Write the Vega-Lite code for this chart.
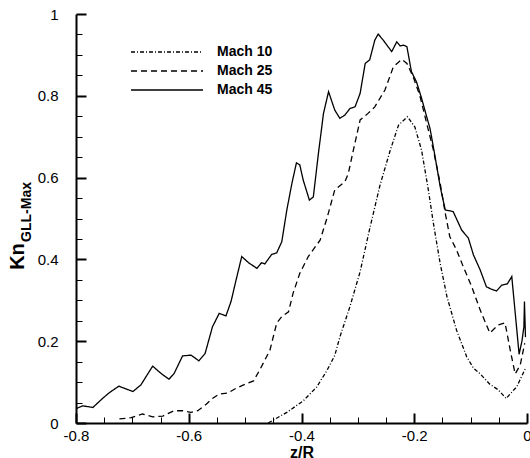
{
  "$schema": "https://vega.github.io/schema/vega-lite/v6.json",
  "width": 451,
  "height": 409,
  "autosize": "none",
  "padding": {"left": 76, "top": 14, "right": 3, "bottom": 35},
  "config": {"view": {"stroke": null}, "font": "Liberation Sans"},
  "data": {"values": [
    {"series":"Mach 10","z":-0.459,"kn":0.0},
    {"series":"Mach 10","z":-0.426,"kn":0.026},
    {"series":"Mach 10","z":-0.397,"kn":0.054},
    {"series":"Mach 10","z":-0.373,"kn":0.088},
    {"series":"Mach 10","z":-0.355,"kn":0.128},
    {"series":"Mach 10","z":-0.341,"kn":0.165},
    {"series":"Mach 10","z":-0.332,"kn":0.21},
    {"series":"Mach 10","z":-0.314,"kn":0.285},
    {"series":"Mach 10","z":-0.296,"kn":0.37},
    {"series":"Mach 10","z":-0.279,"kn":0.475},
    {"series":"Mach 10","z":-0.261,"kn":0.58},
    {"series":"Mach 10","z":-0.243,"kn":0.665},
    {"series":"Mach 10","z":-0.228,"kn":0.728},
    {"series":"Mach 10","z":-0.212,"kn":0.749},
    {"series":"Mach 10","z":-0.199,"kn":0.724},
    {"series":"Mach 10","z":-0.187,"kn":0.667},
    {"series":"Mach 10","z":-0.175,"kn":0.57},
    {"series":"Mach 10","z":-0.166,"kn":0.488},
    {"series":"Mach 10","z":-0.154,"kn":0.39},
    {"series":"Mach 10","z":-0.142,"kn":0.309},
    {"series":"Mach 10","z":-0.125,"kn":0.227},
    {"series":"Mach 10","z":-0.107,"kn":0.162},
    {"series":"Mach 10","z":-0.095,"kn":0.134},
    {"series":"Mach 10","z":-0.083,"kn":0.12},
    {"series":"Mach 10","z":-0.066,"kn":0.095},
    {"series":"Mach 10","z":-0.051,"kn":0.081},
    {"series":"Mach 10","z":-0.037,"kn":0.06},
    {"series":"Mach 10","z":-0.018,"kn":0.089},
    {"series":"Mach 10","z":-0.002,"kn":0.136},

    {"series":"Mach 25","z":-0.723,"kn":0.01},
    {"series":"Mach 25","z":-0.702,"kn":0.013},
    {"series":"Mach 25","z":-0.682,"kn":0.022},
    {"series":"Mach 25","z":-0.664,"kn":0.015},
    {"series":"Mach 25","z":-0.646,"kn":0.017},
    {"series":"Mach 25","z":-0.626,"kn":0.03},
    {"series":"Mach 25","z":-0.611,"kn":0.03},
    {"series":"Mach 25","z":-0.596,"kn":0.026},
    {"series":"Mach 25","z":-0.584,"kn":0.03},
    {"series":"Mach 25","z":-0.569,"kn":0.046},
    {"series":"Mach 25","z":-0.558,"kn":0.06},
    {"series":"Mach 25","z":-0.546,"kn":0.071},
    {"series":"Mach 25","z":-0.531,"kn":0.073},
    {"series":"Mach 25","z":-0.516,"kn":0.085},
    {"series":"Mach 25","z":-0.5,"kn":0.095},
    {"series":"Mach 25","z":-0.485,"kn":0.103},
    {"series":"Mach 25","z":-0.474,"kn":0.13},
    {"series":"Mach 25","z":-0.456,"kn":0.178},
    {"series":"Mach 25","z":-0.444,"kn":0.244},
    {"series":"Mach 25","z":-0.435,"kn":0.26},
    {"series":"Mach 25","z":-0.423,"kn":0.272},
    {"series":"Mach 25","z":-0.415,"kn":0.317},
    {"series":"Mach 25","z":-0.403,"kn":0.366},
    {"series":"Mach 25","z":-0.388,"kn":0.407},
    {"series":"Mach 25","z":-0.367,"kn":0.447},
    {"series":"Mach 25","z":-0.355,"kn":0.5},
    {"series":"Mach 25","z":-0.341,"kn":0.57},
    {"series":"Mach 25","z":-0.323,"kn":0.59},
    {"series":"Mach 25","z":-0.317,"kn":0.61},
    {"series":"Mach 25","z":-0.308,"kn":0.667},
    {"series":"Mach 25","z":-0.296,"kn":0.741},
    {"series":"Mach 25","z":-0.282,"kn":0.757},
    {"series":"Mach 25","z":-0.27,"kn":0.773},
    {"series":"Mach 25","z":-0.252,"kn":0.814},
    {"series":"Mach 25","z":-0.237,"kn":0.871},
    {"series":"Mach 25","z":-0.222,"kn":0.889},
    {"series":"Mach 25","z":-0.213,"kn":0.879},
    {"series":"Mach 25","z":-0.202,"kn":0.847},
    {"series":"Mach 25","z":-0.19,"kn":0.8},
    {"series":"Mach 25","z":-0.178,"kn":0.733},
    {"series":"Mach 25","z":-0.166,"kn":0.667},
    {"series":"Mach 25","z":-0.154,"kn":0.586},
    {"series":"Mach 25","z":-0.145,"kn":0.513},
    {"series":"Mach 25","z":-0.137,"kn":0.456},
    {"series":"Mach 25","z":-0.125,"kn":0.423},
    {"series":"Mach 25","z":-0.113,"kn":0.382},
    {"series":"Mach 25","z":-0.098,"kn":0.333},
    {"series":"Mach 25","z":-0.083,"kn":0.276},
    {"series":"Mach 25","z":-0.066,"kn":0.22},
    {"series":"Mach 25","z":-0.051,"kn":0.24},
    {"series":"Mach 25","z":-0.039,"kn":0.245},
    {"series":"Mach 25","z":-0.03,"kn":0.18},
    {"series":"Mach 25","z":-0.021,"kn":0.12},
    {"series":"Mach 25","z":-0.012,"kn":0.142},
    {"series":"Mach 25","z":-0.004,"kn":0.195},

    {"series":"Mach 45","z":-0.8,"kn":0.035},
    {"series":"Mach 45","z":-0.788,"kn":0.042},
    {"series":"Mach 45","z":-0.77,"kn":0.038},
    {"series":"Mach 45","z":-0.753,"kn":0.06},
    {"series":"Mach 45","z":-0.741,"kn":0.074},
    {"series":"Mach 45","z":-0.724,"kn":0.09},
    {"series":"Mach 45","z":-0.699,"kn":0.077},
    {"series":"Mach 45","z":-0.685,"kn":0.093},
    {"series":"Mach 45","z":-0.664,"kn":0.139},
    {"series":"Mach 45","z":-0.649,"kn":0.121},
    {"series":"Mach 45","z":-0.635,"kn":0.107},
    {"series":"Mach 45","z":-0.626,"kn":0.121},
    {"series":"Mach 45","z":-0.611,"kn":0.164},
    {"series":"Mach 45","z":-0.596,"kn":0.166},
    {"series":"Mach 45","z":-0.582,"kn":0.152},
    {"series":"Mach 45","z":-0.571,"kn":0.17},
    {"series":"Mach 45","z":-0.558,"kn":0.235},
    {"series":"Mach 45","z":-0.546,"kn":0.268},
    {"series":"Mach 45","z":-0.534,"kn":0.262},
    {"series":"Mach 45","z":-0.525,"kn":0.297},
    {"series":"Mach 45","z":-0.516,"kn":0.35},
    {"series":"Mach 45","z":-0.506,"kn":0.407},
    {"series":"Mach 45","z":-0.494,"kn":0.392},
    {"series":"Mach 45","z":-0.479,"kn":0.378},
    {"series":"Mach 45","z":-0.471,"kn":0.392},
    {"series":"Mach 45","z":-0.465,"kn":0.389},
    {"series":"Mach 45","z":-0.453,"kn":0.412},
    {"series":"Mach 45","z":-0.444,"kn":0.416},
    {"series":"Mach 45","z":-0.435,"kn":0.443},
    {"series":"Mach 45","z":-0.426,"kn":0.521},
    {"series":"Mach 45","z":-0.417,"kn":0.586},
    {"series":"Mach 45","z":-0.409,"kn":0.636},
    {"series":"Mach 45","z":-0.403,"kn":0.631},
    {"series":"Mach 45","z":-0.397,"kn":0.594},
    {"series":"Mach 45","z":-0.386,"kn":0.545},
    {"series":"Mach 45","z":-0.379,"kn":0.553},
    {"series":"Mach 45","z":-0.37,"kn":0.659},
    {"series":"Mach 45","z":-0.361,"kn":0.757},
    {"series":"Mach 45","z":-0.352,"kn":0.81},
    {"series":"Mach 45","z":-0.341,"kn":0.765},
    {"series":"Mach 45","z":-0.332,"kn":0.745},
    {"series":"Mach 45","z":-0.323,"kn":0.753},
    {"series":"Mach 45","z":-0.314,"kn":0.769},
    {"series":"Mach 45","z":-0.305,"kn":0.773},
    {"series":"Mach 45","z":-0.296,"kn":0.806},
    {"series":"Mach 45","z":-0.287,"kn":0.879},
    {"series":"Mach 45","z":-0.279,"kn":0.888},
    {"series":"Mach 45","z":-0.27,"kn":0.936},
    {"series":"Mach 45","z":-0.264,"kn":0.951},
    {"series":"Mach 45","z":-0.255,"kn":0.936},
    {"series":"Mach 45","z":-0.24,"kn":0.908},
    {"series":"Mach 45","z":-0.231,"kn":0.932},
    {"series":"Mach 45","z":-0.225,"kn":0.922},
    {"series":"Mach 45","z":-0.219,"kn":0.924},
    {"series":"Mach 45","z":-0.213,"kn":0.92},
    {"series":"Mach 45","z":-0.205,"kn":0.859},
    {"series":"Mach 45","z":-0.196,"kn":0.834},
    {"series":"Mach 45","z":-0.187,"kn":0.794},
    {"series":"Mach 45","z":-0.178,"kn":0.749},
    {"series":"Mach 45","z":-0.172,"kn":0.72},
    {"series":"Mach 45","z":-0.163,"kn":0.651},
    {"series":"Mach 45","z":-0.154,"kn":0.578},
    {"series":"Mach 45","z":-0.145,"kn":0.521},
    {"series":"Mach 45","z":-0.131,"kn":0.517},
    {"series":"Mach 45","z":-0.116,"kn":0.472},
    {"series":"Mach 45","z":-0.104,"kn":0.452},
    {"series":"Mach 45","z":-0.095,"kn":0.411},
    {"series":"Mach 45","z":-0.083,"kn":0.374},
    {"series":"Mach 45","z":-0.072,"kn":0.333},
    {"series":"Mach 45","z":-0.063,"kn":0.327},
    {"series":"Mach 45","z":-0.054,"kn":0.323},
    {"series":"Mach 45","z":-0.045,"kn":0.337},
    {"series":"Mach 45","z":-0.035,"kn":0.34},
    {"series":"Mach 45","z":-0.027,"kn":0.358},
    {"series":"Mach 45","z":-0.014,"kn":0.168},
    {"series":"Mach 45","z":-0.009,"kn":0.2},
    {"series":"Mach 45","z":-0.0055,"kn":0.235},
    {"series":"Mach 45","z":-0.0045,"kn":0.297},
    {"series":"Mach 45","z":-0.0027,"kn":0.21}
  ]},
  "layer": [
    {
      "transform": [{"filter": "datum.series == 'Mach 10'"}],
      "mark": {"type": "line", "color": "black", "strokeWidth": 1.3, "clip": false},
      "encoding": {
        "x": {"field": "z", "type": "quantitative",
          "scale": {"domain": [-0.8, 0], "nice": false, "zero": false},
          "axis": {
            "orient": "bottom", "offset": -10, "zindex": 2,
            "values": [-0.8,-0.6,-0.4,-0.2,0],
            "labelExpr": "'' + datum.value",
            "grid": false, "domain": false,
            "ticks": true, "tickColor": "black", "tickOpacity": 1, "tickSize": 10, "tickWidth": 2,
            "labelFont": "Liberation Sans", "labelFontSize": 15, "labelColor": "black",
            "labelFlush": false, "labelOverlap": false, "labelPadding": 5, "labelBound": false,
            "title": null
          }
        },
        "y": {"field": "kn", "type": "quantitative",
          "scale": {"domain": [0, 1], "nice": false},
          "axis": {
            "orient": "left", "offset": -10, "zindex": 2,
            "values": [0,0.2,0.4,0.6,0.8,1],
            "labelExpr": "'' + datum.value",
            "grid": false, "domain": false,
            "ticks": true, "tickColor": "black", "tickOpacity": 1, "tickSize": 10, "tickWidth": 2,
            "labelFont": "Liberation Sans", "labelFontSize": 15, "labelColor": "black",
            "labelFlush": false, "labelOverlap": false, "labelPadding": 18, "labelBound": false,
            "title": null
          }
        },
        "strokeDash": {"field": "series", "type": "nominal",
          "scale": {"domain": ["Mach 10", "Mach 25", "Mach 45"], "range": [[4,2,1,2],[6,4],[1,0]]},
          "legend": {
            "title": null, "orient": "none", "legendX": 84, "legendY": 31,
            "symbolType": "M-6,0H6", "symbolSize": 144, "symbolStrokeWidth": 1.3, "symbolStrokeColor": "black",
            "symbolFillColor": "transparent",
            "labelFont": "Liberation Sans", "labelFontSize": 14, "labelFontWeight": "bold", "labelColor": "black",
            "labelOffset": 43, "rowPadding": 5
          }
        }
      }
    },
    {
      "transform": [{"filter": "datum.series == 'Mach 25'"}],
      "mark": {"type": "line", "color": "black", "strokeWidth": 1.3, "clip": false},
      "encoding": {
        "x": {"field": "z", "type": "quantitative",
          "scale": {"domain": [-0.8, 0], "nice": false, "zero": false},
          "axis": {
            "orient": "bottom", "offset": -6, "zindex": 2,
            "values": [-0.75,-0.7,-0.65,-0.55,-0.5,-0.45,-0.35,-0.3,-0.25,-0.15,-0.1,-0.05],
            "domain": false, "labels": false, "grid": false, "title": null,
            "ticks": true, "tickColor": "black", "tickOpacity": 1, "tickSize": 6, "tickWidth": 1
          }
        },
        "y": {"field": "kn", "type": "quantitative",
          "scale": {"domain": [0, 1], "nice": false},
          "axis": {
            "orient": "left", "offset": -6, "zindex": 2,
            "values": [0.05,0.1,0.15,0.25,0.3,0.35,0.45,0.5,0.55,0.65,0.7,0.75,0.85,0.9,0.95],
            "domain": false, "labels": false, "grid": false,
            "ticks": true, "tickColor": "black", "tickOpacity": 1, "tickSize": 6, "tickWidth": 1,
            "title": "GLL-Max", "titleFont": "Liberation Sans", "titleFontSize": 14, "titleFontWeight": "bold",
            "titleColor": "black", "titleX": -52, "titleY": 197.5, "titleAngle": -90,
            "titleAlign": "center", "titleBaseline": "alphabetic"
          }
        },
        "strokeDash": {"field": "series", "type": "nominal"}
      }
    },
    {
      "transform": [{"filter": "datum.series == 'Mach 45'"}],
      "mark": {"type": "line", "color": "black", "strokeWidth": 1.3, "clip": false},
      "encoding": {
        "x": {"field": "z", "type": "quantitative",
          "scale": {"domain": [-0.8, 0], "nice": false, "zero": false},
          "axis": {
            "orient": "bottom", "offset": 0, "zindex": 2,
            "domain": true, "domainColor": "black", "domainWidth": 2,
            "ticks": false, "labels": false, "grid": false,
            "title": "z/R", "titleFont": "Liberation Sans", "titleFontSize": 16, "titleFontWeight": "bold",
            "titleColor": "black", "titleY": 34, "titleBaseline": "alphabetic"
          }
        },
        "y": {"field": "kn", "type": "quantitative",
          "scale": {"domain": [0, 1], "nice": false},
          "axis": {
            "orient": "left", "offset": 0, "zindex": 2,
            "domain": true, "domainColor": "black", "domainWidth": 2,
            "ticks": false, "labels": false, "grid": false,
            "title": "Kn", "titleFont": "Liberation Sans", "titleFontSize": 20, "titleFontWeight": "bold",
            "titleColor": "black", "titleX": -53, "titleY": 242, "titleAngle": -90,
            "titleAlign": "center", "titleBaseline": "alphabetic"
          }
        },
        "strokeDash": {"field": "series", "type": "nominal"}
      }
    }
  ],
  "resolve": {"scale": {"x": "independent", "y": "independent"}, "axis": {"x": "independent", "y": "independent"}}
}
